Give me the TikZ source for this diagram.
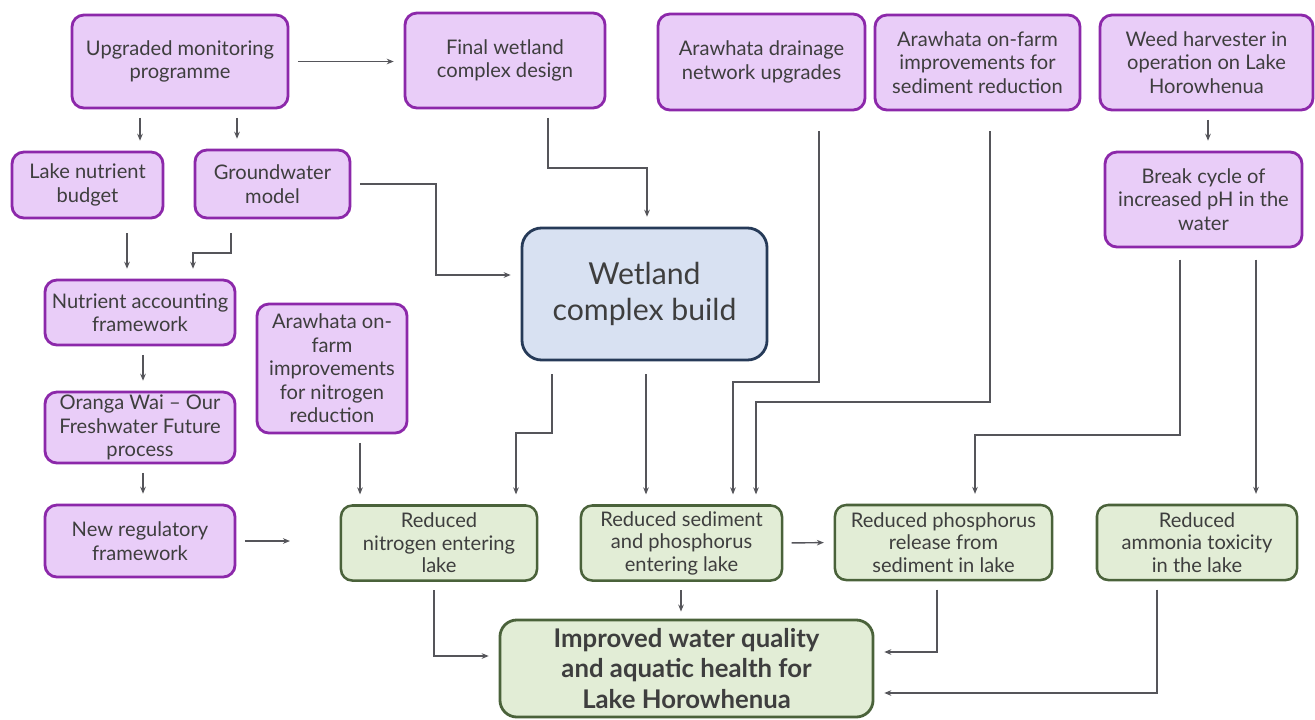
\documentclass[tikz,border=0pt]{standalone}
\usepackage{fontspec}
\setmainfont{Lato}
\usetikzlibrary{arrows.meta}
\definecolor{boxpurple}{RGB}{233, 205, 248}
\definecolor{edgepurple}{RGB}{140, 40, 170}
\definecolor{boxgreen}{RGB}{226, 237, 214}
\definecolor{edgegreen}{RGB}{74, 98, 58}
\definecolor{boxblue}{RGB}{216, 225, 242}
\definecolor{edgeblue}{RGB}{38, 58, 88}
\definecolor{linegray}{RGB}{85, 85, 90}
\definecolor{textgray}{RGB}{62, 62, 62}

\begin{document}
\begin{tikzpicture}[x=0.025cm, y=-0.025cm, >={Stealth[length=5pt, width=4pt]},
    action/.style={draw=edgepurple, fill=boxpurple, line width=2pt, rounded corners=8.5pt,
        align=center, text=textgray, inner sep=1pt, font=\fontsize{14.3}{16.7}\selectfont},
    result/.style={draw=edgegreen, fill=boxgreen, line width=1.8pt, rounded corners=8pt,
        align=center, text=textgray, inner sep=1pt, font=\fontsize{14.3}{16}\selectfont},
    build/.style={draw=edgeblue, fill=boxblue, line width=2pt, rounded corners=14pt,
        align=center, text=textgray, font=\fontsize{21.5}{25}\selectfont},
    link/.style={->, draw=linegray, line width=1pt, shorten <=6pt, shorten >=7pt}]
    \useasboundingbox (0,0) rectangle (1315,719);

    % top row
    \node[action, minimum width=5.4cm, minimum height=2.325cm] (mon) at (180,61.5) {Upgraded monitoring\\programme};
    \node[action, minimum width=5cm, minimum height=2.375cm] (design) at (505,60.5) {Final wetland\\complex design};
    \node[action, minimum width=5.175cm, minimum height=2.4cm] (drain) at (761.5,62) {Arawhata drainage\\network upgrades};
    \node[action, minimum width=5.125cm, minimum height=2.375cm] (sedfarm) at (977.5,62.5) {Arawhata on-farm\\improvements for\\sediment reduction};
    \node[action, minimum width=5.325cm, minimum height=2.375cm] (weed) at (1206.5,62.5) {Weed harvester in\\operation on Lake\\Horowhenua};

    % left column
    \node[action, minimum width=3.775cm, minimum height=1.65cm] (budget) at (87.5,185) {Lake nutrient\\budget};
    \node[action, minimum width=3.875cm, minimum height=1.7cm] (gw) at (272.5,184) {Groundwater\\model};
    \node[action, minimum width=4.75cm, minimum height=1.625cm] (acct) at (140,312.5) {Nutrient accounting\\framework};
    \node[action, minimum width=3.75cm, minimum height=3.225cm] (nfarm) at (332,368.5) {Arawhata on-\\farm\\improvements\\for nitrogen\\reduction};
    \node[action, minimum width=4.75cm, minimum height=1.775cm] (oranga) at (140,427.5) {Oranga Wai – Our\\Freshwater Future\\process};
    \node[action, minimum width=4.75cm, minimum height=1.8cm] (reg) at (140,541) {New regulatory\\framework};
    \coordinate (regend) at (290,541);

    \node[action, minimum width=4.925cm, minimum height=2.375cm] (brk) at (1203.5,199.5) {Break cycle of\\increased pH in the\\water};
    \node[build, minimum width=6.125cm, minimum height=3.3cm] (wet) at (644.5,294) {Wetland\\complex build};

    % outcomes
    \node[result, minimum width=4.9cm, minimum height=1.875cm] (nitro) at (439,543) {Reduced\\nitrogen entering\\lake};
    \node[result, minimum width=5.025cm, minimum height=1.875cm] (sed) at (681.5,543) {Reduced sediment\\and phosphorus\\entering lake};
    \node[result, minimum width=5.425cm, minimum height=1.875cm] (phos) at (943.5,542.5) {Reduced phosphorus\\release from\\sediment in lake};
    \node[result, minimum width=5cm, minimum height=1.875cm] (amm) at (1197,542.5) {Reduced\\ammonia toxicity\\in the lake};
    \node[result, line width=2pt, rounded corners=12pt, minimum width=9.325cm, minimum height=2.425cm,
        font=\fontsize{18.3}{21.4}\selectfont\bfseries] (impr) at (686.5,668.5) {Improved water quality\\and aquatic health for\\Lake Horowhenua};

    % connectors
    \draw[link] (mon.east) -- (mon.east -| design.west);
    \draw[link] (mon.south -| 140,0) -- (budget.north -| 140,0);
    \draw[link] (mon.south -| 237,0) -- (gw.north -| 237,0);
    \draw[link] (weed.south -| 1208,0) -- (brk.north -| 1208,0);
    \draw[link, shorten <=10pt] (budget.south -| 127,0) -- (acct.north -| 127,0);
    \draw[link, shorten <=10pt] (gw.south -| 231,0) -- (231,253) -| (acct.north -| 193,0);
    \draw[link] (gw.east) -| (436,275) -- (wet.west |- 0,275);
    \draw[link] (design.south -| 548,0) -- (548,168) -| (wet.north -| 647,0);
    \draw[link] (acct.south -| 143,0) -- (oranga.north -| 143,0);
    \draw[link] (oranga.south -| 143,0) -- (reg.north -| 143,0);
    \draw[link, shorten >=0pt] (reg.east) -- (regend);
    \draw[link] (nfarm.south -| 360,0) -- (nitro.north -| 360,0);
    \draw[link, shorten <=9pt] (wet.south -| 552,0) -- (552,433) -| (nitro.north -| 516,0);
    \draw[link, shorten <=9pt] (wet.south -| 646,0) -- (sed.north -| 646,0);
    \draw[link, shorten <=14pt] (drain.south -| 819,0) -- (819,382) -| (sed.north -| 733,0);
    \draw[link, shorten <=14pt] (sedfarm.south -| 990,0) -- (990,402) -| (sed.north -| 756,0);
    \draw[link, shorten <=8pt] (brk.south -| 1180,0) -- (1180,435) -| (phos.north -| 975,0);
    \draw[link, shorten <=8pt] (brk.south -| 1256,0) -- (amm.north -| 1256,0);
    \draw[link] (sed.east) -- (phos.west);
    \draw[link, shorten >=5pt] (sed.south -| 681,0) -- (impr.north -| 681,0);
    \draw[link] (nitro.south -| 434,0) |- (impr.west |- 0,656);
    \draw[link] (phos.south -| 937,0) |- (impr.east |- 0,652);
    \draw[link] (amm.south -| 1157,0) |- (impr.east |- 0,693);
\end{tikzpicture}
\end{document}
